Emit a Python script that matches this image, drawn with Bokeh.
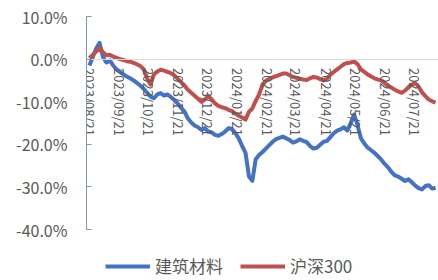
import pandas as pd
from bokeh.plotting import figure
from bokeh.models import (FixedTicker, DatetimeTickFormatter, PrintfTickFormatter,
                          Legend, LegendItem, Range1d)
from bokeh.embed import file_html
from bokeh.resources import INLINE

# ---- data (percent change since 2023/08/21, twice-weekly samples) ----
start_date = "2023-08-21"
step = "84h"
jianzhu = [-1.5, 0.5, 2.5, 3.8, 0.5, -0.8, -0.3, -1.5, -2.4, -2.9,
           -3.6, -4.1, -4.5, -5.0, -5.6, -6.2, -7.0, -7.9, -8.8, -9.2,
           -8.3, -8.0, -8.6, -8.3, -8.9, -9.6, -10.4, -11.4, -12.3, -13.9,
           -14.9, -15.6, -16.0, -16.6, -16.2, -17.0, -17.2, -17.8, -18.0, -17.6,
           -17.0, -16.2, -16.4, -17.4, -18.6, -20.4, -22.0, -27.5, -28.6, -23.5,
           -22.5, -21.8, -21.0, -20.2, -19.4, -18.8, -18.5, -18.2, -18.6, -19.0,
           -19.6, -19.3, -18.8, -19.2, -19.5, -20.4, -21.0, -20.8, -20.1, -19.4,
           -19.2, -18.3, -17.4, -16.8, -16.5, -16.0, -16.8, -15.0, -13.0, -15.5,
           -18.6, -19.8, -20.8, -21.4, -22.0, -22.8, -23.6, -24.6, -25.4, -26.5,
           -27.3, -27.6, -28.1, -28.6, -28.2, -28.9, -29.7, -30.3, -30.6, -29.8,
           -29.6, -30.4, -30.2]
hushen300 = [0.2, 1.0, 1.8, 2.6, 1.6, 0.9, 1.0, 0.6, 0.3, 0.0,
             -0.2, -0.5, -0.6, -0.9, -1.2, -1.6, -2.4, -4.5, -6.0, -3.6,
             -2.9, -2.5, -2.7, -3.0, -3.3, -3.8, -4.6, -5.4, -6.2, -7.2,
             -7.9, -8.6, -9.3, -10.0, -9.5, -8.8, -9.4, -10.4, -11.0, -11.3,
             -11.5, -11.9, -12.2, -12.8, -13.3, -13.7, -14.2, -12.4, -11.6, -9.8,
             -8.3, -6.0, -5.1, -4.6, -4.3, -4.0, -3.7, -3.4, -3.4, -3.8,
             -4.2, -4.4, -4.6, -4.8, -4.9, -4.5, -4.2, -4.3, -4.7, -5.0,
             -4.6, -3.7, -3.0, -2.4, -1.8, -1.2, -0.9, -0.8, -0.6, -1.2,
             -2.4, -3.0, -3.6, -4.1, -4.5, -4.8, -5.0, -5.6, -6.3, -6.7,
             -7.2, -7.6, -7.9, -7.4, -6.6, -6.0, -5.6, -6.5, -7.8, -8.7,
             -9.5, -9.9, -10.2]
series_names = ["建筑材料", "沪深300"]
tick_dates = ["2023-08-21", "2023-09-21", "2023-10-21", "2023-11-21",
              "2023-12-21", "2024-01-21", "2024-02-21", "2024-03-21",
              "2024-04-21", "2024-05-21", "2024-06-21", "2024-07-21"]
y_ticks = [10, 0, -10, -20, -30, -40]

dates = pd.date_range(start_date, periods=len(jianzhu), freq=step)

BLUE = "#4472c4"
RED = "#c0504d"
GRAY = "#595959"
FONT = "Noto Sans CJK SC"

x_start = pd.Timestamp("2023-08-18").value / 1e6
x_end = pd.Timestamp("2024-08-15").value / 1e6

# frame extends down to the canvas bottom so the legend can sit inside it;
# the y axis itself is bounded to -40..10
p = figure(width=438, height=280, x_axis_type="datetime",
           x_range=Range1d(x_start, x_end), y_range=Range1d(-51.97, 10),
           output_backend="svg", toolbar_location=None,
           min_border_left=86, min_border_right=0, min_border_top=16,
           min_border_bottom=0)
p.outline_line_color = None
p.grid.grid_line_color = None
p.background_fill_color = "white"

r1 = p.line(dates, jianzhu, line_color=BLUE, line_width=4, line_join="round")
r2 = p.line(dates, hushen300, line_color=RED, line_width=4, line_join="round")

# x axis sits on the zero line
xa = p.xaxis[0]
xa.fixed_location = 0
xa.ticker = FixedTicker(ticks=[pd.Timestamp(d).value / 1e6 for d in tick_dates])
xa.formatter = DatetimeTickFormatter(days="%Y/%m/%d", months="%Y/%m/%d",
                                     years="%Y/%m/%d", hours="%Y/%m/%d")
xa.major_label_orientation = "vertical"
xa.axis_line_color = "#d9d9d9"
xa.axis_line_width = 1
xa.major_tick_line_color = None
xa.minor_tick_line_color = None
xa.major_label_text_font = FONT
xa.major_label_text_font_size = "13px"
xa.major_label_text_color = GRAY
xa.major_label_standoff = 3

ya = p.yaxis[0]
ya.bounds = (-40, 10)
ya.ticker = FixedTicker(ticks=y_ticks)
ya.formatter = PrintfTickFormatter(format="%.1f%%")
ya.axis_line_color = "#8497b0"
ya.major_tick_line_color = "#8497b0"
ya.major_tick_in = 5
ya.major_tick_out = 0
ya.minor_tick_line_color = None
ya.major_label_text_font = FONT
ya.major_label_text_font_size = "16px"
ya.major_label_text_color = GRAY
ya.major_label_standoff = 19

legend = Legend(items=[LegendItem(label=series_names[0], renderers=[r1]),
                       LegendItem(label=series_names[1], renderers=[r2])],
                orientation="horizontal", location=(19, 2),
                padding=0, margin=0, spacing=17, glyph_width=45,
                glyph_height=20, label_height=20,
                label_standoff=5, border_line_color=None,
                background_fill_alpha=0,
                label_text_font=FONT, label_text_font_size="17px",
                label_text_color=GRAY)
p.add_layout(legend, "center")

open("out.html", "w").write(file_html(p, INLINE))
